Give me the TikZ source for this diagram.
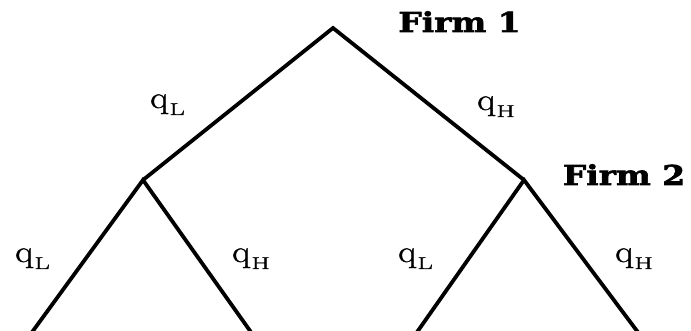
\documentclass[tikz,border=0pt]{standalone}
\usepackage{fontspec}
\setmainfont{Latin Modern Roman}
\newfontfamily\firmfont[FakeBold=2]{DejaVu Serif}
\newfontfamily\qfont[FakeBold=1.2]{Latin Modern Roman}
\newcommand{\qsub}[1]{q\kern1pt\raisebox{-7pt}{\fontsize{17}{18}\selectfont\scalebox{1.3}[1]{#1}}}
\begin{document}
\begin{tikzpicture}[x=1pt,y=1pt,
  edge/.style={line width=3.8pt},
  firm/.style={font=\fontsize{27.4}{30}\firmfont\bfseries, inner sep=0pt, xscale=1.2, anchor=base},
  qlab/.style={font=\fontsize{31}{33}\qfont, inner sep=0pt, xscale=1.2, anchor=base west}]
\useasboundingbox (0,0) rectangle (691,331);
\coordinate (root) at (333,303);
\coordinate (L) at (143,151);
\coordinate (R) at (524,151);
\coordinate (LL) at (30,-4);
\coordinate (LR) at (253,-4);
\coordinate (RL) at (415,-4);
\coordinate (RR) at (640,-4);
\begin{scope}
\clip (0,0) rectangle (691,331);
\draw[edge] (L) -- (root) -- (R);
\draw[edge] (LL) -- (L) -- (LR);
\draw[edge] (RL) -- (R) -- (RR);
\end{scope}
\node[firm] (f1) at (459.5,299) {Firm 1};
\node[firm] (f2) at (624,146) {Firm 2};
\node[qlab] (q1) at (150,223) {\qsub{L}};
\node[qlab] (q2) at (477,221) {\qsub{H}};
\node[qlab] (q3) at (15,69) {\qsub{L}};
\node[qlab] (q4) at (232,69) {\qsub{H}};
\node[qlab] (q5) at (398,69) {\qsub{L}};
\node[qlab] (q6) at (615,69) {\qsub{H}};
\end{tikzpicture}
\end{document}
